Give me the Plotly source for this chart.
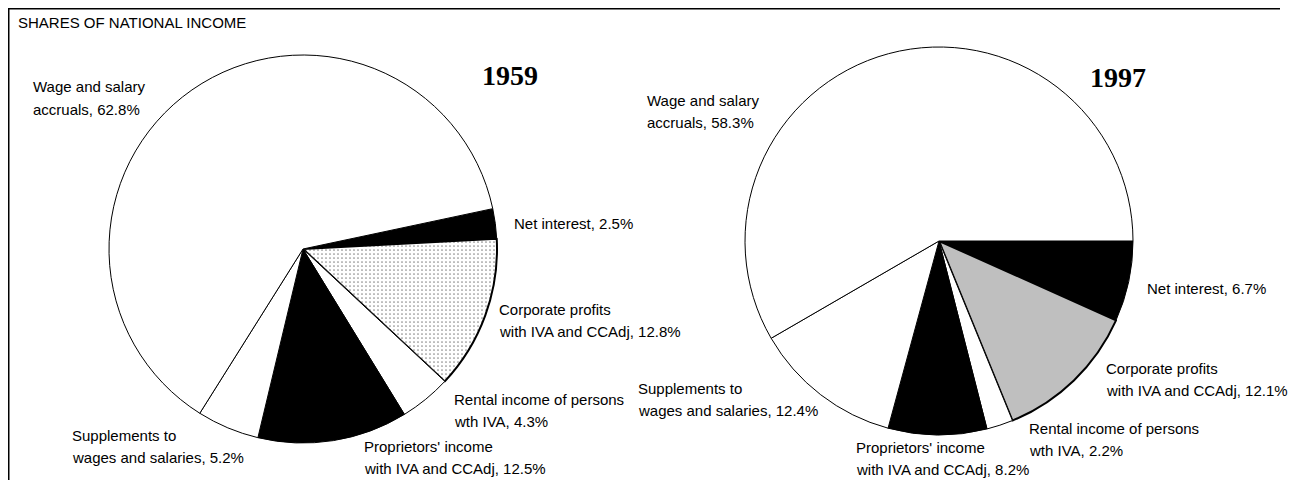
import plotly.graph_objects as go

# --- Data (shares of national income, percent) ---
categories = [
    "Net interest",
    "Corporate profits with IVA and CCAdj",
    "Rental income of persons wth IVA",
    "Proprietors' income with IVA and CCAdj",
    "Supplements to wages and salaries",
    "Wage and salary accruals",
]
label_lines = [
    ["Net interest"],
    ["Corporate profits", "with IVA and CCAdj"],
    ["Rental income of persons", "wth IVA"],
    ["Proprietors' income", "with IVA and CCAdj"],
    ["Supplements to", "wages and salaries"],
    ["Wage and salary", "accruals"],
]
years = ["1959", "1997"]
shares_1959 = [2.5, 12.8, 4.3, 12.5, 5.2, 62.8]
shares_1997 = [6.7, 12.1, 2.2, 8.2, 12.4, 58.3]

W, H = 1297, 480
OFF = 8  # page body margin the figure sits inside
FONT = "Liberation Sans, Arial, Helvetica, sans-serif"

def px_x(x):
    return (x - OFF) / W

def px_y(y):
    return 1 - (y - OFF) / H

# pie geometry in page pixels: centre x, centre y, radius
pies = [
    dict(year=years[0], values=shares_1959, cx=303, cy=249, r=194, rot=78,
         dot="#8a8a8a", solid=0.14, size=4, year_pos=(510, 76),
         label_pos=[(512, 223), (497, 309), (452, 399), (362, 446), (70, 435), (31, 87)]),
    dict(year=years[1], values=shares_1997, cx=939, cy=241, r=194, rot=90,
         dot="#6e6e6e", solid=0.5, size=2, year_pos=(1118, 77),
         label_pos=[(1145, 288), (1104, 368), (1027, 428), (854, 447), (636, 388), (645, 100)]),
]

fills = ["black", "white", "white", "black", "white", "white"]
line_w = [1, 2, 1, 1, 1, 1]

fig = go.Figure()
annotations = []
LINE_GAP = 22.5

for p in pies:
    fig.add_trace(go.Pie(
        labels=categories,
        values=p["values"],
        sort=False,
        direction="clockwise",
        rotation=p["rot"],
        textinfo="none",
        hoverinfo="label+value",
        showlegend=False,
        domain=dict(
            x=[px_x(p["cx"] - p["r"]), px_x(p["cx"] + p["r"])],
            y=[px_y(p["cy"] + p["r"]), px_y(p["cy"] - p["r"])],
        ),
        marker=dict(
            colors=fills,
            line=dict(color="black", width=line_w),
            pattern=dict(
                shape=["", ".", "", "", "", ""],
                fgcolor=p["dot"],
                bgcolor=fills,
                size=p["size"],
                solidity=p["solid"],
            ),
        ),
    ))

    # year heading
    annotations.append(dict(
        text=f"<b>{p['year']}</b>", x=px_x(p["year_pos"][0]), y=px_y(p["year_pos"][1]),
        xref="paper", yref="paper", showarrow=False, xanchor="center", yanchor="middle",
        font=dict(family="Liberation Serif, Times New Roman, serif", size=28, color="black"),
    ))

    # slice labels, one annotation per line
    for lines, val, (lx, ly) in zip(label_lines, p["values"], p["label_pos"]):
        lines = lines[:-1] + [f"{lines[-1]}, {val}%"]
        for n, line in enumerate(lines):
            annotations.append(dict(
                text=line, x=px_x(lx), y=px_y(ly + n * LINE_GAP),
                xref="paper", yref="paper", showarrow=False,
                xanchor="left", yanchor="middle",
                font=dict(family=FONT, size=15, color="black"),
            ))

# chart title
annotations.append(dict(
    text="SHARES OF NATIONAL INCOME", x=px_x(16), y=px_y(22),
    xref="paper", yref="paper", showarrow=False, xanchor="left", yanchor="middle",
    font=dict(family=FONT, size=15, color="black"),
))

# frame (top and left edges)
shapes = [
    dict(type="line", xref="paper", yref="paper", x0=0, x1=px_x(1280),
         y0=1, y1=1, line=dict(color="black", width=3)),
    dict(type="line", xref="paper", yref="paper", x0=0, x1=0,
         y0=1, y1=0, line=dict(color="black", width=3)),
]

fig.update_layout(
    width=W, height=H,
    margin=dict(l=0, r=0, t=0, b=0),
    paper_bgcolor="white",
    plot_bgcolor="white",
    annotations=annotations,
    shapes=shapes,
)

fig.write_html("out.html")
